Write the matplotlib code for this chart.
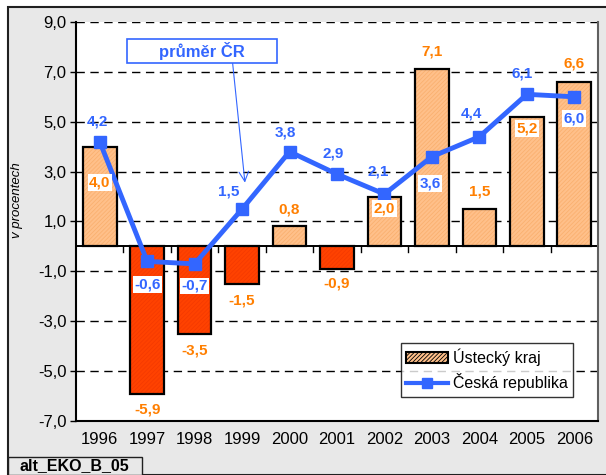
import matplotlib
matplotlib.use("Agg")
import matplotlib.pyplot as plt
from matplotlib.patches import Rectangle
from matplotlib.lines import Line2D

years = ["1996", "1997", "1998", "1999", "2000", "2001", "2002", "2003", "2004", "2005", "2006"]
ustecky = [4.0, -5.9, -3.5, -1.5, 0.8, -0.9, 2.0, 7.1, 1.5, 5.2, 6.6]
cr = [4.2, -0.6, -0.7, 1.5, 3.8, 2.9, 2.1, 3.6, 4.4, 6.1, 6.0]
yticks = [-7.0, -5.0, -3.0, -1.0, 1.0, 3.0, 5.0, 7.0, 9.0]

# label offsets in pixels (dx, dy) relative to bar end / point, plus white-box flag
bar_off = [(0, -36, True), (0, -16, False), (0, -17, False), (0, -17, False), (0, 17, False),
           (0, -15, False), (0, -12, True), (0, 18, False), (0, 18, False), (0, -12, True), (0, 18, False)]
line_off = [(-2, 20, False), (0, -23, True), (0, -22, True), (-13, 18, False), (-4, 19, False),
            (-4, 21, False), (-6, 23, False), (-2, -27, True), (-8, 23, False), (-5, 21, False), (0, -22, True)]

plt.rcParams['font.family'] = ['Liberation Sans', 'DejaVu Sans']
plt.rcParams['hatch.linewidth'] = 0.6
W, H = 606, 475
fig = plt.figure(figsize=(W / 100, H / 100), dpi=100)
fig.patch.set_facecolor('white')

# outer gray frame
fig.patches.append(Rectangle((8 / W, 0), 1.0, (H - 7) / H, transform=fig.transFigure,
                             facecolor='#e8e8e8', edgecolor='#202020', linewidth=1.5, zorder=-10))
# bottom label box
fig.patches.append(Rectangle((8 / W, 0), (142 - 8) / W, (475 - 457) / H, transform=fig.transFigure,
                             facecolor='#e8e8e8', edgecolor='#202020', linewidth=1.0, zorder=-5))
fig.text(20 / W, (475 - 466) / H, "alt_EKO_B_05", fontsize=11.5, fontweight='bold',
         va='center', ha='left')

ax = fig.add_axes([76 / W, 1 - 421 / H, (598 - 76) / W, (421 - 22) / H])
ax.set_facecolor('white')
x = list(range(len(years)))

pos_col = '#FFC08A'
pos_hatch = '#FAB070'
neg_col = '#FF4200'
neg_hatch = '#F53A00'
fcs = [pos_col if v >= 0 else neg_col for v in ustecky]
hcs = [pos_hatch if v >= 0 else neg_hatch for v in ustecky]
ax.bar(x, ustecky, width=0.71, color=fcs, edgecolor=hcs, linewidth=0, hatch='////////', zorder=3)
ax.bar(x, ustecky, width=0.71, fill=False, edgecolor='black', linewidth=1.6, zorder=4)

blue = '#3366FF'
ax.plot(x, cr, color=blue, linewidth=3.5, marker='s', markersize=8, zorder=5)

ax.set_xlim(-0.5, 10.5)
ax.set_ylim(-7, 9)
ax.set_yticks(yticks)
ax.set_yticklabels([f"{v:.1f}".replace('.', ',') for v in yticks], fontsize=12)
ax.set_xticks([])
for xi, yl in zip(x, years):
    ax.text(xi, -7.75, yl, ha='center', va='center', fontsize=12)
for yv in yticks:
    ax.axhline(yv, color='black', linestyle=(0, (6, 4)), linewidth=1.0, zorder=1)
ax.axhline(0, color='black', linewidth=1.4, zorder=2)
for b in [i + 0.5 for i in range(10)]:
    ax.plot([b, b], [0, -0.22], color='black', linewidth=1.0, zorder=2)

ax.spines['top'].set_visible(False)
ax.spines['right'].set_color('#606060')
ax.spines['right'].set_linewidth(1.5)
ax.spines['left'].set_linewidth(1.5)
ax.spines['bottom'].set_linewidth(1.5)
ax.tick_params(axis='y', length=4, width=1.0, pad=3)

ax.set_ylabel("v procentech", fontsize=9.5, style='italic')
ax.yaxis.set_label_coords(-53 / (598 - 76), (421 - 200) / (421 - 22))

orange = '#FF7F00'
for xi, v, (dx, dy, box) in zip(x, ustecky, bar_off):
    bb = dict(facecolor='white', edgecolor='none', pad=1.0) if box else None
    ax.annotate(f"{v:.1f}".replace('.', ','), (xi, v), xytext=(dx, dy), textcoords='offset pixels',
                ha='center', va='center', color=orange, fontsize=11, fontweight='bold',
                bbox=bb, zorder=6)
for xi, v, (dx, dy, box) in zip(x, cr, line_off):
    bb = dict(facecolor='white', edgecolor='none', pad=1.0) if box else None
    ax.annotate(f"{v:.1f}".replace('.', ','), (xi, v), xytext=(dx, dy), textcoords='offset pixels',
                ha='center', va='center', color=blue, fontsize=11, fontweight='bold',
                bbox=bb, zorder=6)

# callout "průměr ČR"
ax.annotate("", xy=(3.06, 2.56), xytext=(2.80, 7.36),
            arrowprops=dict(arrowstyle='->,head_length=0.7,head_width=0.35', color=blue,
                            linewidth=0.8, shrinkA=0, shrinkB=0), zorder=6)
ax.add_patch(Rectangle((0.578, 7.36), 3.729 - 0.578, 8.32 - 7.36, facecolor='white',
                       edgecolor=blue, linewidth=1.2, zorder=7))
ax.text(2.15, 7.84, "průměr ČR", ha='center', va='center', color=blue, fontsize=12,
        fontweight='bold', zorder=8)

handles = [Rectangle((0, 0), 1, 1, facecolor=pos_col, edgecolor='black', linewidth=1.5, hatch='////////'),
           Line2D([0], [0], color=blue, linewidth=3, marker='s', markersize=7)]
leg = ax.legend(handles, ["Ústecký kraj", "Česká republika"], loc='lower right',
                bbox_to_anchor=(573 / W, 1 - 397 / H), bbox_transform=fig.transFigure,
                fontsize=11.5, frameon=True, fancybox=False, edgecolor='black',
                handlelength=2.6, handletextpad=0.3, borderpad=0.35, labelspacing=0.45,
                borderaxespad=0)
leg.get_frame().set_linewidth(1.0)
leg.set_zorder(8)

fig.savefig("out.png", dpi=100)
